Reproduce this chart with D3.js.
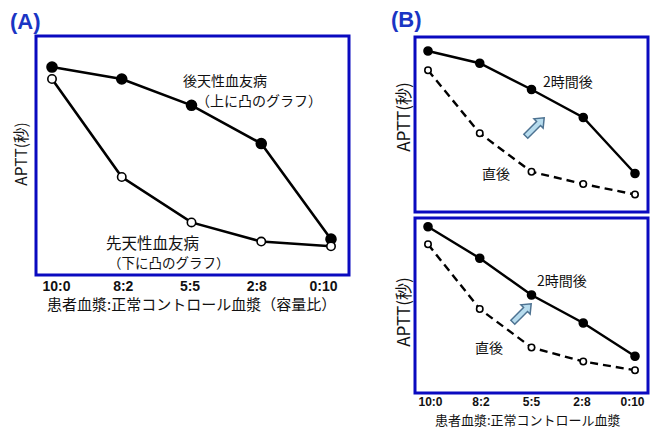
<!DOCTYPE html>
<html>
<head>
<meta charset="utf-8">
<script src="https://cdn.jsdelivr.net/npm/d3@7"></script>
<style>
  body { margin: 0; background: #fff; }
  text { font-family: "Noto Sans CJK JP", "Liberation Sans", sans-serif; fill: #111; }
  .tick text { font-family: "Liberation Sans", Arial, sans-serif; font-weight: bold; }
</style>
</head>
<body>
<script>
// categories on the x axis (patient plasma : normal plasma)
let categories = ["10:0", "8:2", "5:5", "2:8", "0:10"];

// panel A, relative APTT
let acquired = [87, 82, 71, 55, 15];    // 後天性血友病
let congenital = [82, 41, 22, 14, 12];  // 先天性血友病

// panel B top
let bTopLater = [92, 85, 70, 54, 22];   // 2時間後
let bTopNow = [81, 45, 23, 16, 10];     // 直後

// panel B bottom
let bBotLater = [95, 77, 56, 40, 21];
let bBotNow = [85, 48, 26, 18, 13];

let blue = "#0a0ac0";

let svg = d3.select("body").append("svg")
    .attr("width", 660)
    .attr("height", 429);

// draw one panel: box, lines, markers
function panel(opt) {
  let x = d3.scalePoint().domain(categories).range(opt.xr);
  let y = d3.scaleLinear().domain([0, 100]).range([opt.box.y1, opt.box.y0]);
  let g = svg.append("g");

  g.append("rect")
    .attr("x", opt.box.x0).attr("y", opt.box.y0)
    .attr("width", opt.box.x1 - opt.box.x0)
    .attr("height", opt.box.y1 - opt.box.y0)
    .attr("fill", "none")
    .attr("stroke", blue)
    .attr("stroke-width", 3);

  let line = d3.line()
    .x(function(d, i) { return x(categories[i]); })
    .y(function(d) { return y(d); });

  opt.series.forEach(function(s) {
    g.append("path")
      .datum(s.values)
      .attr("d", line)
      .attr("fill", "none")
      .attr("stroke", "#000")
      .attr("stroke-width", opt.lw)
      .attr("stroke-dasharray", s.dash || null);

    g.selectAll(null)
      .data(s.values)
      .enter().append("circle")
        .attr("cx", function(d, i) { return x(categories[i]); })
        .attr("cy", function(d) { return y(d); })
        .attr("r", s.filled ? opt.r : opt.r - 0.8)
        .attr("fill", s.filled ? "#000" : "#fff")
        .attr("stroke", "#000")
        .attr("stroke-width", 1.6);
  });

  // y title
  g.append("text")
    .attr("transform", "translate(" + opt.ytitle[0] + "," + opt.ytitle[1] + ") rotate(-90)")
    .attr("text-anchor", "middle")
    .attr("font-size", opt.yfs)
    .text("APTT(秒)");

  if (opt.labelScale) {
    let xl = d3.scalePoint().domain(categories).range(opt.labelScale);
    let ax = g.append("g")
      .attr("transform", "translate(0," + opt.axisY + ")")
      .call(d3.axisBottom(xl).tickSize(0).tickPadding(0));
    ax.select(".domain").remove();
    ax.selectAll("text").attr("font-size", opt.tfs).attr("fill", "#111");
  }
  return g;
}

function label(x, y, txt, fs) {
  svg.append("text")
    .attr("x", x).attr("y", y)
    .attr("font-size", fs)
    .text(txt);
}

// block arrow
function arrow(cx, cy, len, angle) {
  let h = len / 2;
  let pts = [[-h, -2.8], [h - 8, -2.8], [h - 8, -6.5], [h, 0], [h - 8, 6.5], [h - 8, 2.8], [-h, 2.8]];
  svg.append("path")
    .attr("d", "M" + pts.join("L") + "Z")
    .attr("transform", "translate(" + cx + "," + cy + ") rotate(" + angle + ")")
    .attr("fill", "#b7dcee")
    .attr("stroke", "#4d7291")
    .attr("stroke-width", 1.5);
}

// panel titles
svg.append("text").attr("x", 10).attr("y", 29)
  .attr("font-size", 22).attr("font-weight", "bold")
  .style("fill", "#1a35c4").style("font-family", "Liberation Sans, Arial, sans-serif")
  .text("(A)");
svg.append("text").attr("x", 391).attr("y", 27)
  .attr("font-size", 22).attr("font-weight", "bold")
  .style("fill", "#1a35c4").style("font-family", "Liberation Sans, Arial, sans-serif")
  .text("(B)");

// panel A
panel({
  box: {x0: 36, x1: 349, y0: 36, y1: 275},
  xr: [52, 331], lw: 2.6, r: 5,
  series: [
    {values: acquired, filled: true},
    {values: congenital, filled: false}
  ],
  ytitle: [27, 154], yfs: 15.5,
  labelScale: [56, 323], axisY: 281, tfs: 14
});
label(183, 86, "後天性血友病", 14);
label(196, 106, "（上に凸のグラフ）", 14);
label(106, 249, "先天性血友病", 15.5);
label(108, 268, "（下に凸のグラフ）", 13.5);
label(47, 310, "患者血漿:正常コントロール血漿（容量比）", 15);

// panel B top
panel({
  box: {x0: 415, x1: 648, y0: 37, y1: 212},
  xr: [428, 635], lw: 2.4, r: 4,
  series: [
    {values: bTopLater, filled: true},
    {values: bTopNow, filled: false, dash: "8,5"}
  ],
  ytitle: [410, 117], yfs: 17
});
label(543, 87, "2時間後", 14);
label(482, 179, "直後", 14);
arrow(535, 127, 26, -45);

// panel B bottom
panel({
  box: {x0: 415, x1: 648, y0: 218, y1: 393},
  xr: [428, 635], lw: 2.4, r: 4,
  series: [
    {values: bBotLater, filled: true},
    {values: bBotNow, filled: false, dash: "8,5"}
  ],
  ytitle: [410, 312], yfs: 17,
  labelScale: [430, 632], axisY: 397, tfs: 12
});
label(537, 286, "2時間後", 14);
label(475, 353, "直後", 14);
arrow(522, 313, 26, -45);
label(435, 425, "患者血漿:正常コントロール血漿", 13);
</script>
</body>
</html>
